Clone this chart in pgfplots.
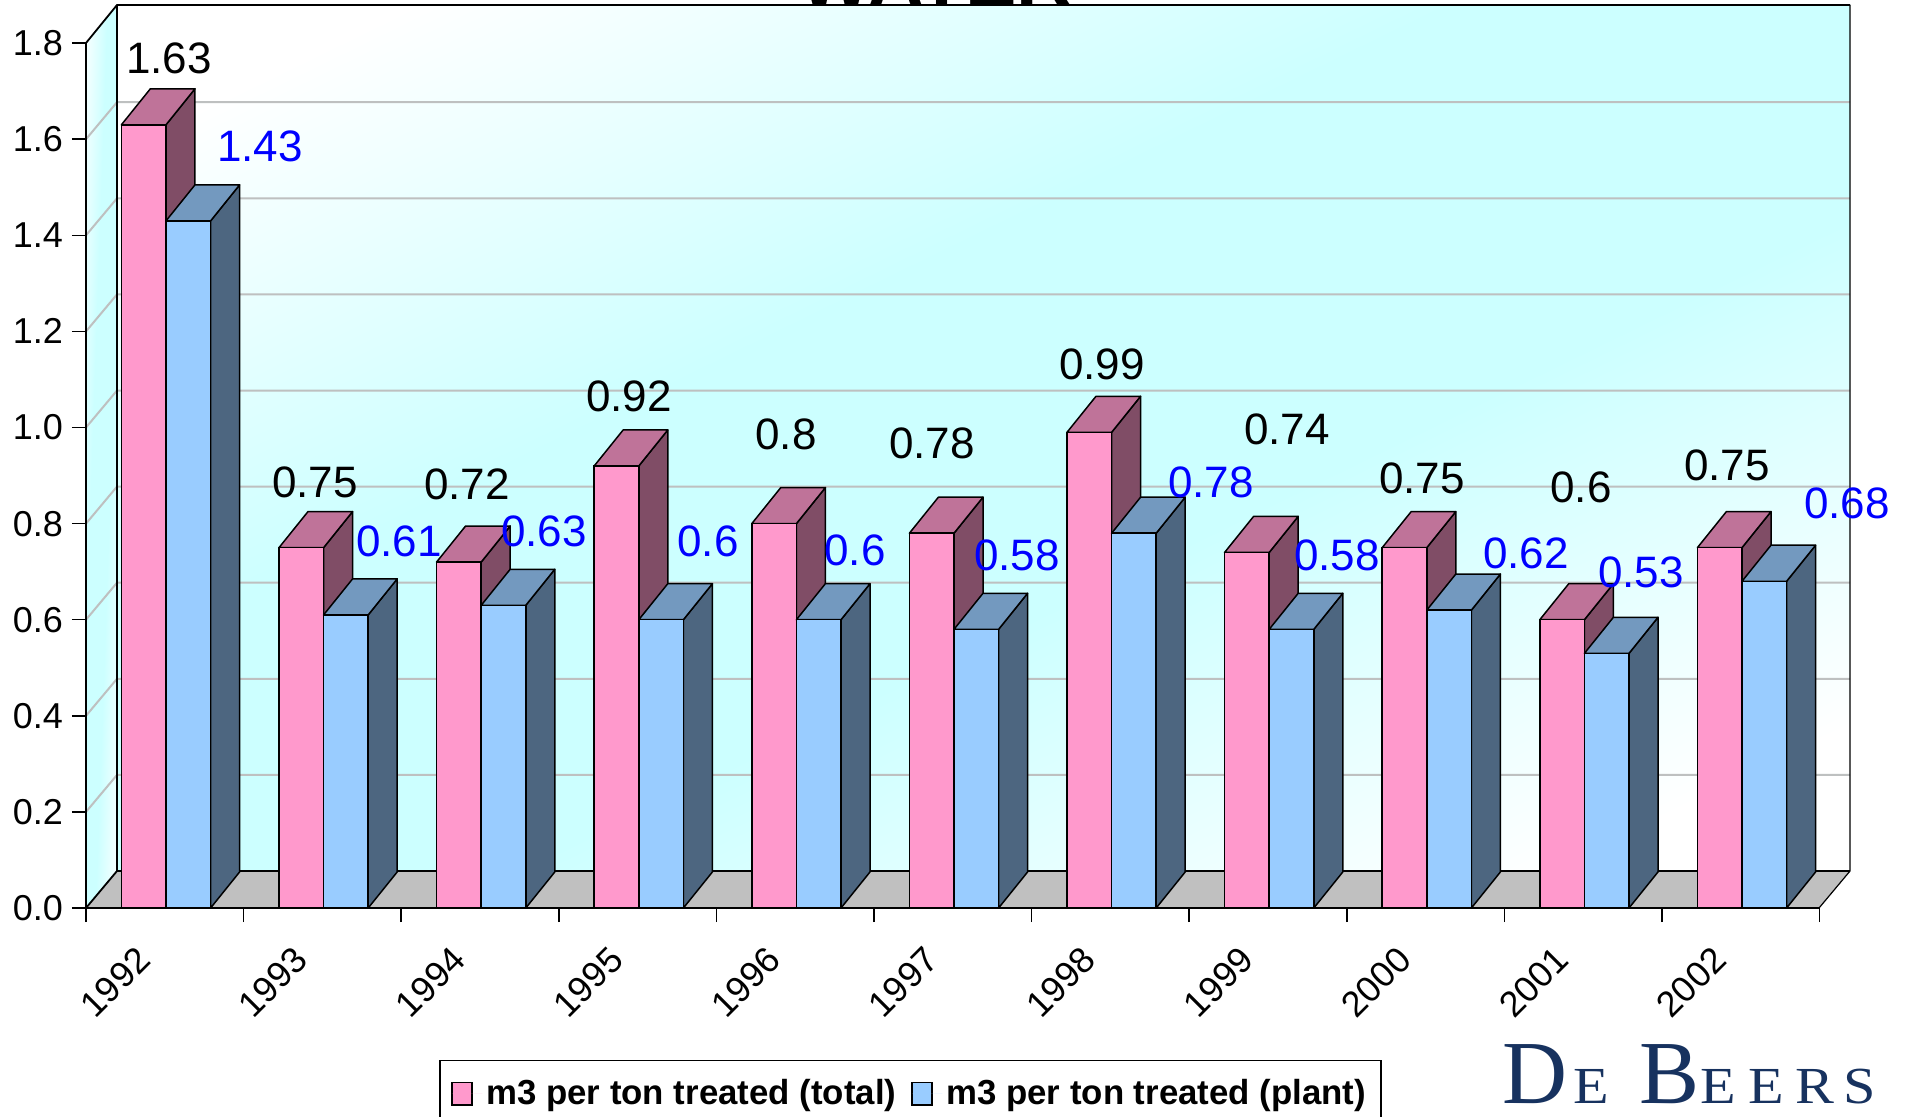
\documentclass[border=0pt]{standalone}
\usepackage{fontspec}
\setmainfont{Liberation Sans}
\newfontfamily\logofont{Liberation Serif}
\newfontfamily\logosmall[FakeStretch=1.12]{Liberation Serif}
\usepackage{pgfplots}
\usepackage{pgfplotstable}
\pgfplotsset{compat=1.18}
\definecolor{wallc}{HTML}{CCFFFF}
\definecolor{pinkF}{HTML}{FF99CC}
\definecolor{pinkT}{HTML}{BF7399}
\definecolor{pinkS}{HTML}{804D66}
\definecolor{blueF}{HTML}{99CCFF}
\definecolor{blueT}{HTML}{7399BF}
\definecolor{blueS}{HTML}{4D6680}
\definecolor{gridc}{HTML}{BEC0C0}
\definecolor{floorc}{HTML}{C0C0C0}
\definecolor{logoc}{HTML}{17325F}
\pgfdeclarehorizontalshading{wall}{100bp}{color(0bp)=(white);color(22bp)=(white);color(42bp)=(wallc);color(58bp)=(wallc);color(78bp)=(white);color(100bp)=(white)}
\pgfplotstableread{
year x0 total plant
1992 0 1.63 1.43
1993 1 0.75 0.61
1994 2 0.72 0.63
1995 3 0.92 0.60
1996 4 0.80 0.60
1997 5 0.78 0.58
1998 6 0.99 0.78
1999 7 0.74 0.58
2000 8 0.75 0.62
2001 9 0.60 0.53
2002 10 0.75 0.68
}\datatbl
\pgfplotstableread{
px py lab
169 58 1.63
315 482 0.75
467 484 0.72
629 396 0.92
786 434 0.8
932 443 0.78
1102 364 0.99
1287 429 0.74
1422 478 0.75
1581 487 0.6
1727 465 0.75
}\labA
\pgfplotstableread{
px py lab
260 146 1.43
399 541 0.61
544 531 0.63
708 541 0.6
855 550 0.6
1017 555 0.58
1211 482 0.78
1337 555 0.58
1526 553 0.62
1641 572 0.53
1847 503 0.68
}\labB
\newcommand\barw{0.283}
\newcommand\prism[4]{% left x, value, top colour, side colour
  \pgfmathsetmacro\xa{#1}\pgfmathsetmacro\xb{#1+\barw}%
  \pgfmathsetmacro\xc{#1+\barw+0.184}\pgfmathsetmacro\xd{#1+0.184}%
  \pgfmathsetmacro\yt{#2+0.075}%
  \edef\temp{\noexpand\addplot[forget plot,sharp plot,no markers,fill=#4,draw=black,line width=.75pt,line join=round]
     coordinates {(\xb,0)(\xc,0.075)(\xc,\yt)(\xb,#2)} --cycle;
   \noexpand\addplot[forget plot,sharp plot,no markers,fill=#3,draw=black,line width=.75pt,line join=round]
     coordinates {(\xa,#2)(\xd,\yt)(\xc,\yt)(\xb,#2)} --cycle;}%
  \temp}
\begin{document}
\begin{tikzpicture}
\path[use as bounding box] (-43pt,-104pt) rectangle (909.5pt,454pt);
\begin{scope}[x=.5pt,y=-.5pt,shift={(-86,-908)}]
  \node[anchor=base,inner sep=0pt,font=\bfseries\fontsize{38.5}{42}\selectfont] at (936,6) {WATER};
  \shade[shading=wall,shading angle=-64] (117,5) rectangle (1850,871);
  \shade[shading=wall,shading angle=-2] (86,908) -- (86,43) -- (117,5) -- (117,871) -- cycle;
  \foreach \v in {0.2,0.4,...,1.7} {
    \draw[gridc,line width=1pt] (86,908-480.5*\v) -- (117,871-480.5*\v) -- (1850,871-480.5*\v);
  }
  \fill[floorc] (86,908) -- (117,871) -- (1850,871) -- (1819,908) -- cycle;
  \draw[black,line width=.9pt,line join=round] (86,908) -- (86,43) -- (117,5) -- (1850,5);
  \draw[black,line width=.9pt] (117,5) -- (117,871) -- (1850,871);
  \draw[black,line width=.6pt] (1850,5) -- (1850,871) -- (1819,908);
  \draw[black,line width=.9pt] (86,908) -- (117,871);
  \draw[black,line width=.9pt] (86,908) -- (1819,908);
  \node[anchor=base west,inner sep=0pt,text=logoc] at (1502,1103)
    {\logofont\fontsize{45}{50}\selectfont D\hspace{3.2pt}\logosmall\fontsize{26}{30}\selectfont E\hspace{14.9pt}\logofont\fontsize{45}{50}\selectfont B\hspace{.7pt}\logosmall\fontsize{26}{30}\selectfont E\hspace{6.4pt}E\hspace{5.4pt}R\hspace{4.5pt}S};
\end{scope}
\begin{axis}[
  at={(0,0)},anchor=south west,
  scale only axis,width=882pt,height=451.5pt,
  xmin=0,xmax=11.193,ymin=0,ymax=1.8793,
  clip=false,
  axis line style={draw=none},
  tick align=outside,tick pos=left,
  major tick length=7pt,
  tick style={black,line width=.75pt},
  xtick={0,...,11},xticklabels={},
  extra x ticks={0.177,1.177,2.177,3.177,4.177,5.177,6.177,7.177,8.177,9.177,10.177},
  extra x tick labels={1992,1993,1994,1995,1996,1997,1998,1999,2000,2001,2002},
  extra x tick style={major tick length=0pt,
     xticklabel style={rotate=45,anchor=center,xshift=-25.7pt,yshift=-26.7pt}},
  ytick={0,0.2,...,1.8},
  /pgf/number format/assume math mode=true,
  /pgf/number format/fixed,/pgf/number format/fixed zerofill,/pgf/number format/precision=1,
  tick label style={font=\fontsize{18}{20}\selectfont},
  yticklabel style={xshift=-1pt},
  legend columns=2,
  legend style={at={(axis cs:2.243,-0.316)},anchor=north west,draw=black,line width=.75pt,
     font=\bfseries\fontsize{17.4}{20}\selectfont,inner ysep=7.5pt,inner xsep=5.5pt,
     /tikz/every even column/.append style={column sep=5.5pt}},
]
\pgfplotsforeachungrouped \i in {0,...,10} {
  \pgfplotstablegetelem{\i}{total}\of\datatbl \edef\val{\pgfplotsretval}
  \pgfmathsetmacro\lx{\i+0.2246}
  \edef\cmd{\noexpand\prism{\lx}{\val}{pinkT}{pinkS}}\cmd
}
\addplot[ybar,bar width=0.283,bar shift=0pt,fill=pinkF,draw=black,line width=.75pt,
   legend image code/.code={\draw[fill=pinkF,draw=black,line width=.75pt] (0pt,-5.7pt) rectangle (10pt,5.7pt);\path[draw=none] (0pt,0pt) -- (15.2pt,0pt);}]
   table[x expr=\thisrow{x0}+0.3661,y=total] {\datatbl};
\addlegendentry{m3 per ton treated (total)}
\pgfplotsforeachungrouped \i in {0,...,10} {
  \pgfplotstablegetelem{\i}{plant}\of\datatbl \edef\val{\pgfplotsretval}
  \pgfmathsetmacro\lx{\i+0.5076}
  \edef\cmd{\noexpand\prism{\lx}{\val}{blueT}{blueS}}\cmd
}
\addplot[ybar,bar width=0.283,bar shift=0pt,fill=blueF,draw=black,line width=.75pt,
   legend image code/.code={\draw[fill=blueF,draw=black,line width=.75pt] (0pt,-5.7pt) rectangle (10pt,5.7pt);\path[draw=none] (0pt,0pt) -- (15.2pt,0pt);}]
   table[x expr=\thisrow{x0}+0.6491,y=plant] {\datatbl};
\addlegendentry{m3 per ton treated (plant)}
\addplot[forget plot,only marks,mark=none,point meta=explicit symbolic,nodes near coords,
   every node near coord/.append style={anchor=center,text=black,font=\fontsize{22}{24}\selectfont}]
   table[x expr=(\thisrow{px}-86)/157.6,y expr=(908-\thisrow{py})/480.5,meta=lab] {\labA};
\addplot[forget plot,only marks,mark=none,point meta=explicit symbolic,nodes near coords,
   every node near coord/.append style={anchor=center,text=blue,font=\fontsize{22}{24}\selectfont}]
   table[x expr=(\thisrow{px}-86)/157.6,y expr=(908-\thisrow{py})/480.5,meta=lab] {\labB};
\end{axis}
\end{tikzpicture}
\end{document}
